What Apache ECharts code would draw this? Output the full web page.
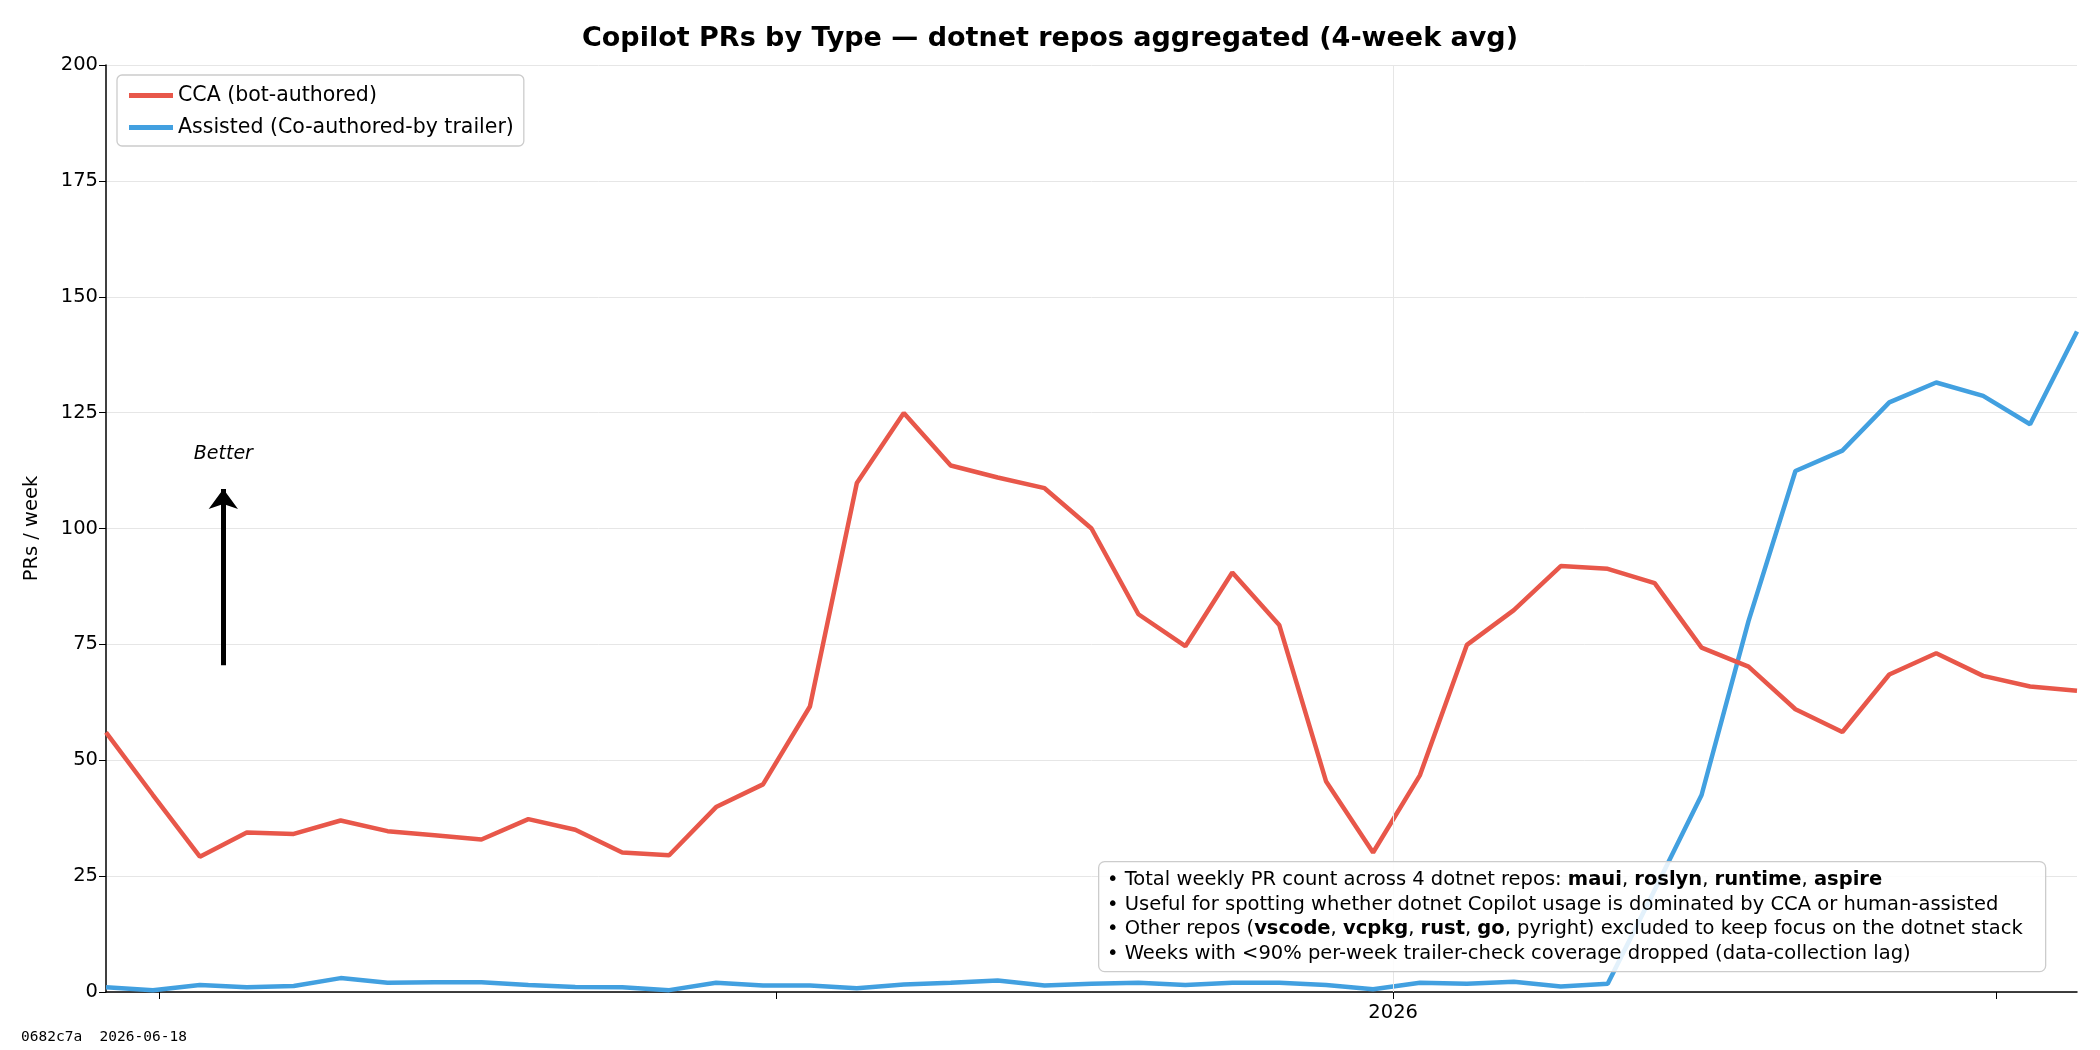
<!DOCTYPE html>
<html><head><meta charset="utf-8">
<script src="https://cdn.jsdelivr.net/npm/echarts@6/dist/echarts.min.js"></script>
<style>html,body{margin:0;padding:0;background:#fff}#c{width:2100px;height:1050px}</style>
</head><body><div id="c"></div>
<script>
const weeks = ['2025-06-23','2025-06-30','2025-07-07','2025-07-14','2025-07-21','2025-07-28','2025-08-04','2025-08-11','2025-08-18','2025-08-25','2025-09-01','2025-09-08','2025-09-15','2025-09-22','2025-09-29','2025-10-06','2025-10-13','2025-10-20','2025-10-27','2025-11-03','2025-11-10','2025-11-17','2025-11-24','2025-12-01','2025-12-08','2025-12-15','2025-12-22','2025-12-29','2026-01-05','2026-01-12','2026-01-19','2026-01-26','2026-02-02','2026-02-09','2026-02-16','2026-02-23','2026-03-02','2026-03-09','2026-03-16','2026-03-23','2026-03-30','2026-04-06','2026-04-13'];
const cca = [56,42.5,29.2,34.4,34.1,37,34.7,33.8,32.9,37.3,35,30.1,29.5,39.9,44.8,61.6,109.8,124.9,113.6,111,108.7,100,81.5,74.6,90.5,79.2,45.4,30.1,46.8,74.9,82.4,91.9,91.3,88.2,74.3,70.2,61,56.1,68.5,73.1,68.2,65.9,65];
const assisted = [1.0,0.4,1.5,1.0,1.3,3.0,2.0,2.1,2.1,1.5,1.1,1.0,0.4,2.0,1.4,1.4,0.8,1.6,2.0,2.5,1.4,1.8,2.0,1.5,2.0,2.0,1.5,0.6,2.0,1.8,2.2,1.2,1.8,22,42.5,80,112.4,116.8,127.2,131.5,128.6,122.5,142.5];
const tickDates = ['2025-07-01','2025-10-01','2026-01-01','2026-04-01'];
const labelDates = ['2026-01-01'];
const notes = [
  ['Total weekly PR count across 4 dotnet repos: ',['maui'],', ',['roslyn'],', ',['runtime'],', ',['aspire']],
  ['Useful for spotting whether dotnet Copilot usage is dominated by CCA or human-assisted'],
  ['Other repos (',['vscode'],', ',['vcpkg'],', ',['rust'],', ',['go'],', pyright) excluded to keep focus on the dotnet stack'],
  ['Weeks with <90% per-week trailer-check coverage dropped (data-collection lag)']
];
const ts = d => Date.parse(d + 'T00:00:00Z');
const F = 'DejaVu Sans';
const noteText = notes.map(parts => '• ' + parts.map(p => Array.isArray(p) ? '{b|' + p[0] + '}' : p).join('')).join('\n');
const arrowX = Date.UTC(2025,6,10,12);
const chart = echarts.init(document.getElementById('c'));
chart.setOption({
  animation:false,
  textStyle:{fontFamily:F},
  title:{text:'Copilot PRs by Type — dotnet repos aggregated (4-week avg)',left:'center',top:20,
    textStyle:{fontFamily:F,fontSize:27,fontWeight:'bold',color:'#000'}},
  grid:{left:106,right:23,top:65,bottom:58},
  legend:{orient:'vertical',left:117,top:75,padding:[10,10,8,12],itemGap:11,
    borderColor:'#cccccc',borderWidth:1.3,borderRadius:5,backgroundColor:'rgba(255,255,255,0.8)',
    icon:'rect',itemWidth:44,itemHeight:5,textStyle:{fontFamily:F,fontSize:20.5,color:'#000'}},
  xAxis:{type:'value',min:ts(weeks[0]),max:ts(weeks[weeks.length-1]),
    axisLine:{lineStyle:{color:'#000',width:1.5}},
    axisTick:{show:true,length:7,lineStyle:{color:'#000'},customValues:tickDates.map(ts)},
    axisLabel:{customValues:labelDates.map(ts),formatter:v=>String(new Date(v).getUTCFullYear()),
      fontFamily:F,fontSize:19.5,color:'#000',margin:11},
    splitLine:{show:false}},
  yAxis:{type:'value',min:0,max:200,interval:25,name:'PRs / week',nameLocation:'middle',nameGap:64,
    nameTextStyle:{fontFamily:F,fontSize:19.5,color:'#000'},
    axisLine:{show:true,lineStyle:{color:'#000',width:1.5}},
    axisTick:{show:true,length:7,lineStyle:{color:'#000'}},
    axisLabel:{fontFamily:F,fontSize:19.5,color:'#000'},
    splitLine:{lineStyle:{color:'#e6e6e6',width:1}}},
  series:[
    {name:'CCA (bot-authored)',type:'line',showSymbol:false,data:weeks.map((w,i)=>[ts(w),cca[i]]),
      lineStyle:{color:'#e8574a',width:4.5},itemStyle:{color:'#e8574a'},z:3,
      markLine:{silent:true,symbol:['none','none'],label:{show:false},
        lineStyle:{color:'#e6e6e6',width:1,type:'solid'},data:[{xAxis:ts(labelDates[0])}]}},
    {name:'Assisted (Co-authored-by trailer)',type:'line',showSymbol:false,data:weeks.map((w,i)=>[ts(w),assisted[i]]),
      lineStyle:{color:'#42a0e0',width:4.5},itemStyle:{color:'#42a0e0'},z:2,
      markLine:{silent:true,symbol:['none','arrow'],symbolSize:[22,20],label:{show:false},
        lineStyle:{color:'#000',width:5,type:'solid'},
        data:[[{coord:[arrowX,70.5]},{coord:[arrowX,108.5]}]]},
      markPoint:{silent:true,symbol:'circle',symbolSize:1,itemStyle:{color:'rgba(0,0,0,0)'},
        label:{show:true,formatter:'Better',fontFamily:F,fontStyle:'italic',fontSize:19,color:'#000'},
        data:[{coord:[arrowX,116]}]}}
  ],
  graphic:[
    {type:'rect',left:1098,top:861,shape:{width:947,height:110,r:6},
      style:{fill:'rgba(255,255,255,0.85)',stroke:'#cccccc',lineWidth:1.3},z:10},
    {type:'text',left:1107,top:868,z:11,style:{text:noteText,fontFamily:F,fontSize:19.5,lineHeight:24.5,fill:'#000',
      rich:{b:{fontWeight:'bold',fontFamily:F,fontSize:19.5}}}},
    {type:'text',left:21,top:1030,style:{text:'0682c7a  2026-06-18',fontFamily:'DejaVu Sans Mono',fontSize:14.5,fill:'#000'}}
  ]
});
</script></body></html>
